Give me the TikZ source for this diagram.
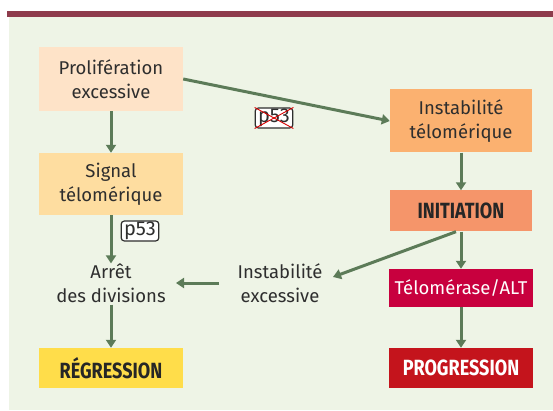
\documentclass[tikz,border=0pt]{standalone}
\usepackage{fontspec}
\setmainfont{Fira Sans}
\newfontfamily\condbold[FakeStretch=0.82]{Fira Sans Bold}
\usetikzlibrary{arrows.meta}
\definecolor{barc}{HTML}{8E3B4C}
\definecolor{bgc}{HTML}{EEF4E6}
\definecolor{prolc}{HTML}{FEE3C8}
\definecolor{sigc}{HTML}{FEDDA0}
\definecolor{instc}{HTML}{FBB170}
\definecolor{initc}{HTML}{F5956A}
\definecolor{teloc}{HTML}{C8003E}
\definecolor{regc}{HTML}{FFDD4A}
\definecolor{progc}{HTML}{C4141C}
\definecolor{arrc}{HTML}{5C7B58}
\definecolor{txtc}{HTML}{2E2E2E}
\begin{document}
\begin{tikzpicture}[x=1pt,y=-1pt,
  box/.style={draw=none,minimum width=144pt,align=center,text=txtc,font=\fontsize{18.5}{24}\selectfont,inner sep=0pt},
  plain/.style={align=center,text=txtc,font=\fontsize{18.5}{24}\selectfont,inner sep=2pt},
  boldlbl/.style={draw=none,minimum width=144pt,minimum height=40pt,font=\condbold\fontsize{22}{24}\selectfont,inner sep=0pt},
  conn/.style={draw=arrc,line width=3pt,-{Triangle[length=8pt,width=10pt]}},
  ptag/.style={draw=txtc,fill=white,rounded corners=3pt,line width=1.2pt,text=txtc,font=\fontsize{20}{20}\selectfont,inner xsep=3pt,inner ysep=1pt}
]
\useasboundingbox (0,0) rectangle (553,411);
\fill[barc] (7,11.5) rectangle (553,17);
\fill[bgc] (9,17.5) rectangle (553,410);

\node[box,fill=prolc,minimum height=64pt] (prol) at (111,79) {Prolifération\\excessive};
\node[box,fill=sigc,minimum height=62pt] (sig) at (111,184) {Signal\\télomérique};
\node[plain] (arret) at (111,283) {Arrêt\\des divisions};
\node[boldlbl,fill=regc,text=black!85] (reg) at (111,368) {RÉGRESSION};
\node[box,fill=instc,minimum height=63pt,minimum width=142pt] (inst) at (461,121) {Instabilité\\télomérique};
\node[boldlbl,fill=initc,minimum width=142pt,minimum height=41pt,text=black!85] (init) at (461,211) {INITIATION};
\node[box,fill=teloc,minimum height=38pt,text=white] (telo) at (461,288) {Télomérase/ALT};
\node[boldlbl,fill=progc,text=white] (prog) at (461,368) {PROGRESSION};
\node[plain] (instex) at (280,283) {Instabilité\\excessive};

\draw[conn] (prol.south) -- (sig.north);
\draw[conn] (sig.south) -- ([yshift=-2pt]arret.north);
\draw[conn] (arret.south) -- (reg.north);
\draw[conn] (prol.east) -- (inst.west);
\draw[conn] (inst.south) -- (init.north);
\draw[conn] (init.south) -- (telo.north);
\draw[conn] (telo.south) -- (prog.north);
\coordinate (ie) at (333,277);
\draw[conn] ([xshift=-5pt]init.south) -- (ie);
\coordinate (ieout) at (219,283);
\coordinate (arin) at (176,283);
\draw[conn] (ieout) -- (arin);

\node[ptag] (p53a) at (140,231) {p53};
\node[ptag] (p53b) at (274,118) {p53};
\draw[red!85!black,line width=0.9pt] (p53b.north west) -- (p53b.south east);
\draw[red!85!black,line width=0.9pt] (p53b.south west) -- (p53b.north east);
\end{tikzpicture}
\end{document}
